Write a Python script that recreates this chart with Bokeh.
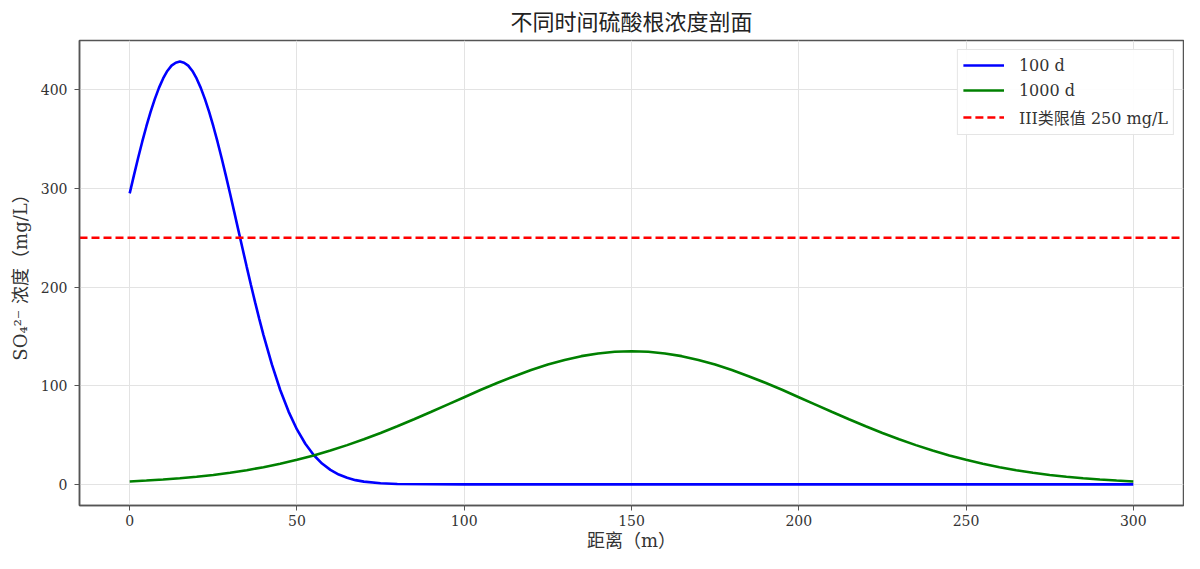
from bokeh.plotting import figure
from bokeh.models import Range1d, FixedTicker, Legend, LegendItem
from bokeh.embed import file_html
from bokeh.resources import INLINE

# ---- data ----
x_100d = [0, 1.25, 2.5, 3.75, 5, 6.25, 7.5, 8.75, 10, 11.25, 12.5, 13.75, 15,
          16.25, 17.5, 18.75, 20, 21.25, 22.5, 23.75, 25, 26.25, 27.5, 28.75, 30,
          31.25, 32.5, 33.75, 35, 36.25, 37.5, 38.75, 40, 42.5, 45, 47.5, 50,
          52.5, 55, 57.5, 60, 62.5, 65, 67.5, 70, 75, 80, 90, 100, 150, 200,
          250, 300]
c_100d = [295.0, 313.0, 330.6, 347.4, 363.1, 377.6, 390.6, 402.0, 411.5, 419.1,
          424.5, 427.5, 428.6, 427.5, 424.5, 419.1, 411.5, 402.0, 390.6, 377.6,
          363.1, 347.4, 330.6, 313.0, 294.9, 276.3, 257.5, 238.8, 220.3, 202.1,
          184.5, 167.6, 151.4, 121.6, 95.7, 73.8, 55.7, 41.2, 29.8, 21.1, 14.7,
          10.0, 6.7, 4.3, 2.8, 1.1, 0.4, 0.1, 0.0, 0.0, 0.0, 0.0, 0.0]

x_1000d = [0, 5, 10, 15, 20, 25, 30, 35, 40, 45, 50, 55, 60, 65, 70, 75, 80, 85,
           90, 95, 100, 105, 110, 115, 120, 125, 130, 135, 140, 145, 150, 155,
           160, 165, 170, 175, 180, 185, 190, 195, 200, 205, 210, 215, 220, 225,
           230, 235, 240, 245, 250, 255, 260, 265, 270, 275, 280, 285, 290, 295,
           300]
c_1000d = [3.0, 3.9, 4.9, 6.2, 7.7, 9.6, 11.8, 14.4, 17.4, 20.9, 24.9, 29.3,
           34.3, 39.8, 45.7, 52.1, 58.9, 66.1, 73.4, 80.9, 88.4, 95.9, 103.0,
           109.7, 115.9, 121.5, 126.2, 130.0, 132.7, 134.4, 135.0, 134.4, 132.7,
           130.0, 126.2, 121.5, 115.9, 109.7, 103.0, 95.9, 88.4, 80.9, 73.4, 66.1,
           58.9, 52.1, 45.7, 39.8, 34.3, 29.3, 24.9, 20.9, 17.4, 14.4, 11.8, 9.6,
           7.7, 6.2, 4.9, 3.9, 3.0]

limit_value = 250
x_ticks = [0, 50, 100, 150, 200, 250, 300]
y_ticks = [0, 100, 200, 300, 400]
x_lo, x_hi = -15, 315
y_lo, y_hi = -21.4, 450.0

labels = ["100 d", "1000 d", "III类限值 250 mg/L"]
title_text = "不同时间硫酸根浓度剖面"
x_label = "距离（m）"
y_label = "SO₄²⁻ 浓度（mg/L）"

FONT = "DejaVu Serif, Noto Sans CJK SC"
AX = "#555555"

p = figure(width=1184, height=553, output_backend="svg", toolbar_location=None,
           x_range=Range1d(x_lo, x_hi), y_range=Range1d(y_lo, y_hi),
           min_border_left=79, min_border_right=1, min_border_top=40,
           min_border_bottom=47)

p.title.text = title_text
p.title.align = "center"
p.title.text_font = FONT
p.title.text_font_size = "22px"
p.title.text_font_style = "normal"
p.title.text_color = "#222222"
p.title.standoff = 11

p.outline_line_color = AX
p.outline_line_width = 1.5
p.background_fill_color = "white"
p.border_fill_color = "white"

for ax in (p.xaxis[0], p.yaxis[0]):
    ax.axis_line_color = AX
    ax.axis_line_width = 1.5
    ax.major_tick_line_color = AX
    ax.major_tick_out = 5
    ax.major_tick_in = 0
    ax.minor_tick_line_color = None
    ax.major_label_text_font = FONT
    ax.major_label_text_font_size = "14px"
    ax.major_label_text_color = "#333333"
    ax.axis_label_text_font = FONT
    ax.axis_label_text_font_size = "18px"
    ax.axis_label_text_font_style = "normal"
    ax.axis_label_text_color = "#333333"

p.xaxis[0].ticker = FixedTicker(ticks=x_ticks)
p.yaxis[0].ticker = FixedTicker(ticks=y_ticks)
p.xaxis[0].axis_label = x_label
p.yaxis[0].axis_label = y_label
p.xaxis[0].major_label_standoff = 4
p.xaxis[0].axis_label_standoff = 1
p.yaxis[0].major_label_standoff = 7
p.yaxis[0].axis_label_standoff = 7

p.xgrid.ticker = FixedTicker(ticks=x_ticks)
p.ygrid.ticker = FixedTicker(ticks=y_ticks)
for g in (p.xgrid[0], p.ygrid[0]):
    g.grid_line_color = "#e3e3e3"
    g.grid_line_width = 1

r1 = p.line(x_100d, c_100d, line_color="#0000ff", line_width=2.6)
r2 = p.line(x_1000d, c_1000d, line_color="#008000", line_width=2.6)
r3 = p.line([x_lo, x_hi], [limit_value, limit_value], line_color="#ff0000",
            line_width=2.4, line_dash="8 4")

legend = Legend(items=[LegendItem(label=labels[0], renderers=[r1]),
                       LegendItem(label=labels[1], renderers=[r2]),
                       LegendItem(label=labels[2], renderers=[r3])],
                location="top_right")
legend.label_text_font = FONT
legend.label_text_font_size = "16px"
legend.label_text_color = "#333333"
legend.glyph_width = 41
legend.glyph_height = 20
legend.label_height = 20
legend.spacing = 5
legend.padding = 5
legend.margin = 9
legend.label_standoff = 15
legend.border_line_color = "#cccccc"
legend.border_line_width = 1
legend.background_fill_alpha = 0.9
p.add_layout(legend)

open("out.html", "w").write(file_html(p, INLINE))
